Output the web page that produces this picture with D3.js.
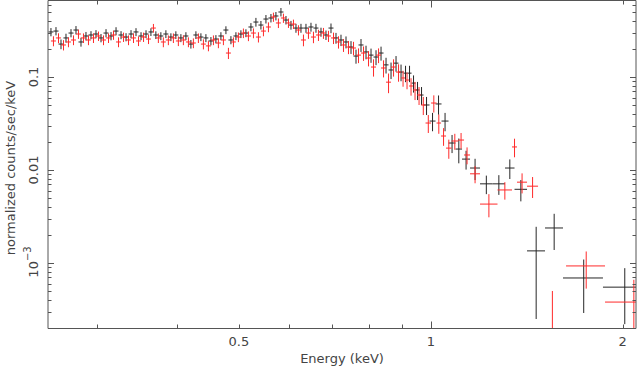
<!DOCTYPE html>
<html>
<head>
<meta charset="utf-8">
<style>
  body { margin: 0; background: #fff; }
  svg { display: block; }
  text { font-family: "DejaVu Sans", sans-serif; fill: #444; }
</style>
</head>
<body>
<svg id="spectrum"></svg>
<script src="https://cdn.jsdelivr.net/npm/d3@7"></script>
<script>

// bin edges (keV), flux (normalized counts/sec/keV) and 1-sigma errors
var blackEdges = [0.2514, 0.2560, 0.2607, 0.2654, 0.2703, 0.2752, 0.2802, 0.2853, 0.2905, 0.2958,
    0.3012, 0.3067, 0.3123, 0.3180, 0.3238, 0.3297, 0.3357, 0.3418, 0.3480, 0.3544,
    0.3608, 0.3672, 0.3739, 0.3807, 0.3877, 0.3947, 0.4019, 0.4093, 0.4167, 0.4243,
    0.4321, 0.4399, 0.4480, 0.4561, 0.4644, 0.4729, 0.4815, 0.4903, 0.4992, 0.5083,
    0.5176, 0.5270, 0.5366, 0.5464, 0.5564, 0.5665, 0.5768, 0.5874, 0.5981, 0.6090,
    0.6201, 0.6314, 0.6429, 0.6546, 0.6666, 0.6787, 0.6911, 0.7037, 0.7165, 0.7296,
    0.7429, 0.7564, 0.7702, 0.7843, 0.7986, 0.8131, 0.8280, 0.8431, 0.8584, 0.8741,
    0.8900, 0.9062, 0.9194, 0.9328, 0.9463, 0.9601, 0.9741, 0.9954, 1.0172, 1.0395,
    1.0661, 1.0934, 1.1194, 1.1522, 1.1945, 1.2497, 1.3074, 1.3530, 1.4155, 1.5105,
    1.6119, 1.8622, 2.1671];

var blackFlux = [0.305, 0.312, 0.226, 0.263, 0.297, 0.320, 0.238, 0.276, 0.283, 0.290,
    0.263, 0.297, 0.276, 0.312, 0.283, 0.269, 0.290, 0.305, 0.276, 0.290,
    0.305, 0.283, 0.276, 0.290, 0.269, 0.283, 0.263, 0.276, 0.226, 0.283,
    0.269, 0.263, 0.244, 0.256, 0.276, 0.320, 0.250, 0.276, 0.290, 0.297,
    0.345, 0.390, 0.362, 0.420, 0.431, 0.453, 0.500, 0.410, 0.362, 0.336,
    0.336, 0.336, 0.345, 0.336, 0.305, 0.283, 0.336, 0.263, 0.250, 0.238,
    0.210, 0.168, 0.221, 0.186, 0.172, 0.164, 0.181, 0.135, 0.119, 0.141,
    0.113, 0.110, 0.110, 0.086, 0.0725, 0.064, 0.050, 0.0336, 0.0513, 0.0336,
    0.0195, 0.0168, 0.0131, 0.0105, 0.0071, 0.0071, 0.0105, 0.0062, 0.00135, 0.00238,
    0.00069, 0.00055];

var blackErr = [0.031, 0.032, 0.027, 0.029, 0.030, 0.033, 0.026, 0.029, 0.028, 0.029,
    0.027, 0.030, 0.028, 0.031, 0.028, 0.027, 0.029, 0.030, 0.027, 0.028,
    0.029, 0.027, 0.027, 0.028, 0.026, 0.027, 0.026, 0.027, 0.024, 0.027,
    0.026, 0.026, 0.025, 0.026, 0.027, 0.031, 0.025, 0.027, 0.028, 0.029,
    0.035, 0.042, 0.038, 0.044, 0.045, 0.047, 0.052, 0.043, 0.039, 0.037,
    0.037, 0.037, 0.038, 0.037, 0.034, 0.033, 0.040, 0.035, 0.035, 0.035,
    0.033, 0.029, 0.035, 0.031, 0.030, 0.030, 0.031, 0.026, 0.024, 0.027,
    0.023, 0.022, 0.022, 0.018, 0.016, 0.014, 0.011, 0.0075, 0.012, 0.0075,
    0.0043, 0.005, 0.003, 0.0027, 0.0016, 0.0017, 0.0025, 0.0016, 0.0011, 0.001,
    0.0004, 0.00033];

var redEdges = [0.2537, 0.2583, 0.2631, 0.2678, 0.2727, 0.2777, 0.2827, 0.2879, 0.2931, 0.2985,
    0.3039, 0.3095, 0.3151, 0.3209, 0.3267, 0.3327, 0.3387, 0.3449, 0.3512, 0.3576,
    0.3641, 0.3705, 0.3773, 0.3841, 0.3912, 0.3983, 0.4055, 0.4130, 0.4205, 0.4281,
    0.4360, 0.4439, 0.4521, 0.4602, 0.4686, 0.4772, 0.4859, 0.4947, 0.5037, 0.5129,
    0.5223, 0.5318, 0.5415, 0.5514, 0.5614, 0.5716, 0.5820, 0.5927, 0.6035, 0.6145,
    0.6257, 0.6371, 0.6487, 0.6605, 0.6726, 0.6848, 0.6974, 0.7101, 0.7230, 0.7362,
    0.7496, 0.7633, 0.7772, 0.7914, 0.8058, 0.8205, 0.8355, 0.8507, 0.8662, 0.8820,
    0.8981, 0.9112, 0.9244, 0.9379, 0.9515, 0.9654, 0.9812, 1.0009, 1.0210, 1.0377,
    1.0566, 1.0778, 1.1034, 1.1276, 1.1522, 1.1945, 1.2724, 1.3408, 1.3652, 1.4155,
    1.4729, 1.6296, 1.8760, 2.2876];

var redFlux = [0.244, 0.263, 0.221, 0.238, 0.250, 0.290, 0.263, 0.250, 0.263, 0.276,
    0.250, 0.263, 0.283, 0.238, 0.269, 0.250, 0.263, 0.244, 0.269, 0.256,
    0.336, 0.263, 0.238, 0.250, 0.263, 0.244, 0.250, 0.238, 0.232, 0.263,
    0.226, 0.216, 0.250, 0.232, 0.250, 0.181, 0.238, 0.269, 0.297, 0.276,
    0.297, 0.269, 0.312, 0.345, 0.442, 0.381, 0.431, 0.381, 0.371, 0.320,
    0.250, 0.297, 0.269, 0.283, 0.297, 0.276, 0.263, 0.238, 0.221, 0.210,
    0.205, 0.172, 0.181, 0.160, 0.128, 0.172, 0.125, 0.088, 0.128, 0.113,
    0.0976, 0.0928, 0.080, 0.0725, 0.064, 0.050, 0.032, 0.0525, 0.032, 0.0232,
    0.0172, 0.0205, 0.021, 0.0145, 0.0091, 0.0043, 0.0061, 0.0177, 0.0074, 0.0067,
    0.0001, 0.00093, 0.00038];

var redErr = [0.030, 0.032, 0.028, 0.029, 0.030, 0.033, 0.031, 0.030, 0.031, 0.032,
    0.030, 0.031, 0.032, 0.029, 0.031, 0.030, 0.031, 0.029, 0.031, 0.030,
    0.036, 0.031, 0.029, 0.030, 0.031, 0.029, 0.030, 0.029, 0.028, 0.031,
    0.028, 0.027, 0.030, 0.028, 0.030, 0.025, 0.029, 0.032, 0.035, 0.033,
    0.036, 0.034, 0.038, 0.042, 0.050, 0.045, 0.049, 0.044, 0.043, 0.040,
    0.036, 0.040, 0.038, 0.039, 0.040, 0.038, 0.037, 0.036, 0.035, 0.034,
    0.034, 0.031, 0.032, 0.030, 0.027, 0.031, 0.026, 0.021, 0.027, 0.024,
    0.019, 0.019, 0.017, 0.016, 0.014, 0.011, 0.007, 0.011, 0.0075, 0.005,
    0.004, 0.004, 0.004, 0.003, 0.0019, 0.0012, 0.0013, 0.004, 0.0018, 0.0017,
    0.0004, 0.0004, 0.00028];

var xDomain = [0.251, 2.098];
var yDomain = [2.0e-4, 0.673];
var xTickLabels = [[0.5, "0.5"], [1, "1"], [2, "2"]];
var yTickLabels = [[0.1, "0.1"], [0.01, "0.01"]];

var svg = d3.select('#spectrum')
    .attr('width', 637)
    .attr('height', 366);

var margin = {top: 0, right: 1, bottom: 38, left: 48},
    width = 637 - margin.left - margin.right,
    height = 366 - margin.top - margin.bottom;

var x = d3.scaleLog().domain(xDomain).range([margin.left, margin.left + width]);
var y = d3.scaleLog().domain(yDomain).range([margin.top + height, margin.top]);

svg.append('clipPath').attr('id', 'plot-clip')
    .append('rect')
    .attr('x', margin.left).attr('y', margin.top)
    .attr('width', width).attr('height', height);

function makeBins(edges, flux, err){
    var bins = [];
    for (var i = 0; i < flux.length; i++){
        bins.push({lo: edges[i], hi: edges[i+1], f: flux[i], e: err[i]});
    }
    return bins;
}

function drawSeries(bins, colour){
    var g = svg.append('g')
        .attr('clip-path', 'url(#plot-clip)')
        .style('stroke', colour)
        .style('stroke-width', 1)
        .style('fill', 'none');

    g.selectAll('.hbar')
        .data(bins)
        .enter().append('line')
        .attr('x1', function(d){ return x(d.lo); })
        .attr('x2', function(d){ return x(d.hi); })
        .attr('y1', function(d){ return y(d.f); })
        .attr('y2', function(d){ return y(d.f); });

    g.selectAll('.vbar')
        .data(bins)
        .enter().append('line')
        .attr('x1', function(d){ return x((d.lo + d.hi) / 2); })
        .attr('x2', function(d){ return x((d.lo + d.hi) / 2); })
        .attr('y1', function(d){ return y(d.f + d.e); })
        .attr('y2', function(d){ return y(Math.max(d.f - d.e, 1e-6)); });
}

drawSeries(makeBins(blackEdges, blackFlux, blackErr), '#262626');
drawSeries(makeBins(redEdges, redFlux, redErr), '#ff2a2a');

// frame and ticks
var frame = svg.append('g').style('stroke', '#555').style('stroke-width', 1);
var x0 = margin.left, x1 = margin.left + width, y0 = margin.top + 0.5, y1 = margin.top + height + 0.5;

frame.append('line').attr('x1', x0).attr('x2', x1).attr('y1', y0).attr('y2', y0);
frame.append('line').attr('x1', x0).attr('x2', x1).attr('y1', y1).attr('y2', y1);
frame.append('line').attr('x1', x0).attr('x2', x0).attr('y1', y0).attr('y2', y1);
frame.append('line').attr('x1', x1).attr('x2', x1).attr('y1', y0).attr('y2', y1);

function isDecade(v){
    var l = Math.log10(v);
    return Math.abs(l - Math.round(l)) < 1e-6;
}

x.ticks().forEach(function(v){
    var len = isDecade(v) ? 7 : 4;
    var px = Math.round(x(v)) + 0.5;
    frame.append('line').attr('x1', px).attr('x2', px).attr('y1', y1).attr('y2', y1 - len);
    frame.append('line').attr('x1', px).attr('x2', px).attr('y1', y0).attr('y2', y0 + len);
});

y.ticks().forEach(function(v){
    if (v <= yDomain[0] * 1.0001) return;
    var len = isDecade(v) ? 6 : 3.5;
    var py = Math.round(y(v)) + 0.5;
    frame.append('line').attr('x1', x0).attr('x2', x0 + len).attr('y1', py).attr('y2', py);
    frame.append('line').attr('x1', x1).attr('x2', x1 - len).attr('y1', py).attr('y2', py);
});

// tick labels
svg.selectAll('.xlab')
    .data(xTickLabels)
    .enter().append('text')
    .attr('x', function(d){ return x(d[0]); })
    .attr('y', 346)
    .attr('text-anchor', 'middle')
    .style('font-size', '13px')
    .text(function(d){ return d[1]; });

svg.selectAll('.ylab')
    .data(yTickLabels)
    .enter().append('text')
    .attr('transform', function(d){ return 'translate(38,' + y(d[0]) + ') rotate(-90)'; })
    .attr('text-anchor', 'middle')
    .style('font-size', '13px')
    .text(function(d){ return d[1]; });

var milli = svg.append('text')
    .attr('transform', 'translate(38,' + (y(0.001) - 1) + ') rotate(-90)')
    .attr('text-anchor', 'middle')
    .style('font-size', '13px');
milli.append('tspan').text('10');
milli.append('tspan').attr('dy', -7).style('font-size', '10px').text('\u22123');

// axis titles
svg.append('text')
    .attr('x', 342)
    .attr('y', 363)
    .attr('text-anchor', 'middle')
    .style('font-size', '13px')
    .text('Energy (keV)');

svg.append('text')
    .attr('transform', 'translate(15,' + 168 + ') rotate(-90)')
    .attr('text-anchor', 'middle')
    .style('font-size', '13px')
    .text('normalized counts/sec/keV');

</script>
</body>
</html>
